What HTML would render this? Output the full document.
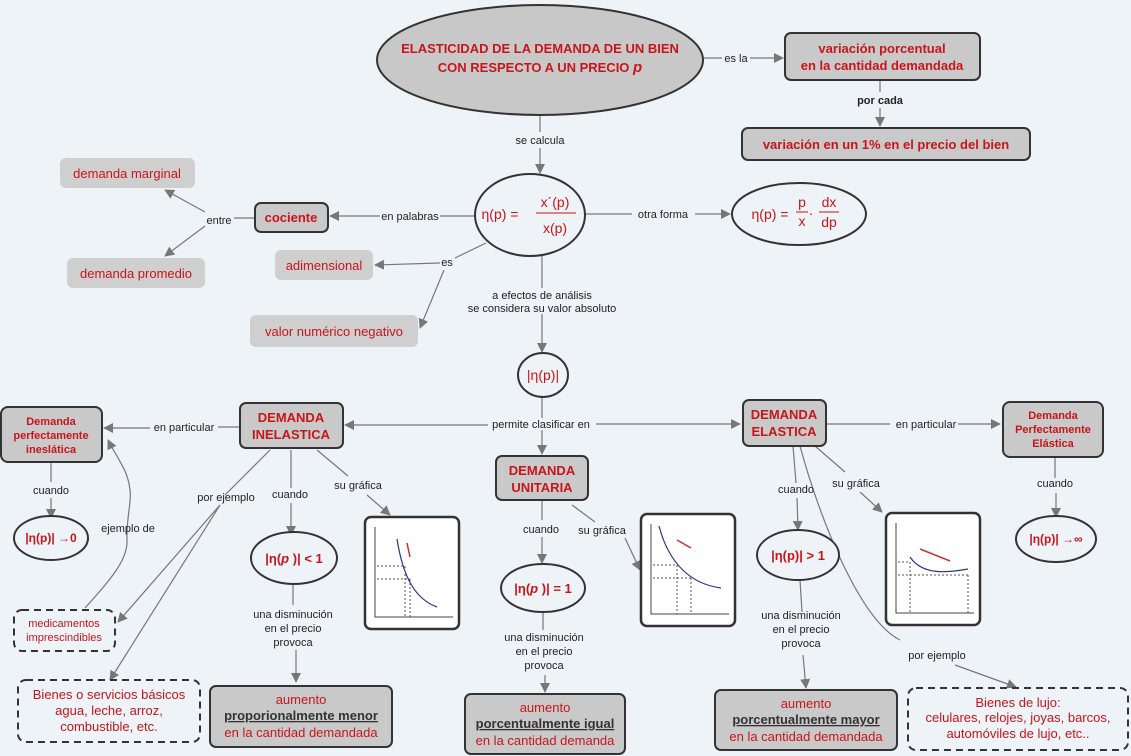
<!DOCTYPE html>
<html><head><meta charset="utf-8"><style>
html,body{margin:0;padding:0;background:#edf3f6;}
svg{display:block;font-family:"Liberation Sans",sans-serif;}
.l{font-size:11px;fill:#222;text-anchor:middle}
.r{fill:#c8151b;text-anchor:middle}
.b{font-weight:bold}
.ln{stroke:#777;stroke-width:1.2;fill:none}
.n{fill:#c9c9c9;stroke:#333;stroke-width:2}
.s{fill:#cfcfcf;stroke:none}
.e{fill:#edf3f6;stroke:#333;stroke-width:2}
.d{fill:#edf3f6;stroke:#333;stroke-width:2;stroke-dasharray:7,5}
</style></head><body>
<svg width="1131" height="756" viewBox="0 0 1131 756">
<defs><marker id="a" markerWidth="10" markerHeight="10" refX="9" refY="5" orient="auto" markerUnits="userSpaceOnUse"><path d="M0,0 L10,5 L0,10z" fill="#777"/></marker>
<g id="gr"><rect x="0" y="0" width="94" height="112" rx="6" fill="#fff" stroke="#333" stroke-width="2.5"/><path d="M10,10 V100 H88" stroke="#444" fill="none"/></g></defs>

<!-- connectors -->
<g class="ln">
<path d="M703,58 H722 M750,58 H783" marker-end="url(#a)"/>
<path d="M880,80 V92 M880,108 V126" marker-end="url(#a)"/>
<path d="M540,115 V132 M540,148 V173" marker-end="url(#a)"/>
<path d="M585,214 H632 M695,214 H730" marker-end="url(#a)"/>
<path d="M475,216 H440 M380,216 H330" marker-end="url(#a)"/>
<path d="M255,218 H234 M205,212 L165,190" marker-end="url(#a)"/>
<path d="M205,226 L165,256" marker-end="url(#a)"/>
<path d="M486,243 L455,258 M440,263 L375,265" marker-end="url(#a)"/>
<path d="M444,270 L420,328" marker-end="url(#a)"/>
<path d="M542,256 V288 M542,314 V352" marker-end="url(#a)"/>
<path d="M542,397 V418"/>
<path d="M488,425 H345" marker-end="url(#a)"/>
<path d="M596,424 H740" marker-end="url(#a)"/>
<path d="M542,430 V454" marker-end="url(#a)"/>
<path d="M240,427 H218 M150,428 H104" marker-end="url(#a)"/>
<path d="M51,462 V482 M51,498 V518" marker-end="url(#a)"/>
<path d="M85,608 C110,580 128,560 127,540 C126,520 132,500 130,490 C128,470 118,460 108,440" marker-end="url(#a)"/>
<path d="M270,450 L225,495 M220,505 L118,622" marker-end="url(#a)"/>
<path d="M220,505 L110,680" marker-end="url(#a)"/>
<path d="M291,450 V488 M291,503 V535" marker-end="url(#a)"/>
<path d="M317,450 L348,476 M367,495 L390,515" marker-end="url(#a)"/>
<path d="M293,585 V605 M296,650 V682" marker-end="url(#a)"/>
<path d="M542,500 V520 M542,537 V563" marker-end="url(#a)"/>
<path d="M572,505 L595,522 M625,538 L640,570" marker-end="url(#a)"/>
<path d="M543,610 V630 M545,675 V692" marker-end="url(#a)"/>
<path d="M826,424 H890 M958,424 H1000" marker-end="url(#a)"/>
<path d="M793,446 L796,483 M797,498 L798,530" marker-end="url(#a)"/>
<path d="M815,446 L845,472 M860,492 L882,512" marker-end="url(#a)"/>
<path d="M800,580 L802,612 M803,655 L806,688" marker-end="url(#a)"/>
<path d="M800,446 C820,520 860,620 900,640 M955,665 L1016,687" marker-end="url(#a)"/>
<path d="M1055,458 V478 M1056,493 V517" marker-end="url(#a)"/>
</g>

<!-- top -->
<ellipse cx="540" cy="60" rx="163" ry="55" fill="#c8c8c8" stroke="#333" stroke-width="2"/>
<text class="r b" font-size="13"><tspan x="540" y="53">ELASTICIDAD DE LA DEMANDA DE UN BIEN</tspan><tspan x="540" y="72">CON RESPECTO A UN PRECIO <tspan font-style="italic" font-size="15">p</tspan></tspan></text>
<text class="l" x="736" y="62">es la</text>
<rect class="n" x="785" y="33" width="195" height="47" rx="6"/>
<text class="r b" font-size="13"><tspan x="882" y="53">variación porcentual</tspan><tspan x="882" y="70">en la cantidad demandada</tspan></text>
<text class="l b" x="880" y="104">por cada</text>
<rect class="n" x="742" y="128" width="288" height="32" rx="6"/>
<text class="r b" font-size="13" x="886" y="149">variación en un 1% en el precio del bien</text>
<text class="l" x="540" y="144">se calcula</text>

<ellipse class="e" cx="530" cy="215" rx="55" ry="41"/>
<text class="r" font-size="14" x="500" y="219">η(p) =</text>
<text class="r" font-size="14" x="555" y="207">x´(p)</text>
<line x1="536" y1="213" x2="576" y2="213" stroke="#c8151b"/>
<text class="r" font-size="14" x="555" y="233">x(p)</text>
<text class="l" x="663" y="218">otra forma</text>
<ellipse class="e" cx="799" cy="214" rx="67" ry="31"/>
<text class="r" font-size="14" x="770" y="219">η(p) =</text>
<text class="r" font-size="14" x="802" y="207">p</text><line x1="796" y1="212" x2="808" y2="212" stroke="#c8151b"/><text class="r" font-size="14" x="802" y="226">x</text>
<text class="r" font-size="14" x="811" y="218">·</text>
<text class="r" font-size="14" x="829" y="207">dx</text><line x1="819" y1="212" x2="839" y2="212" stroke="#c8151b"/><text class="r" font-size="14" x="829" y="227">dp</text>

<text class="l" x="410" y="220">en palabras</text>
<rect class="n" x="255" y="203" width="73" height="29" rx="6"/>
<text class="r b" font-size="13" x="291" y="222">cociente</text>
<text class="l" x="219" y="224">entre</text>
<rect class="s" x="60" y="158" width="135" height="30" rx="6"/>
<text class="r" font-size="13" x="127" y="178">demanda marginal</text>
<rect class="s" x="67" y="258" width="138" height="30" rx="6"/>
<text class="r" font-size="13" x="136" y="278">demanda promedio</text>
<text class="l" x="447" y="266">es</text>
<rect class="s" x="275" y="250" width="98" height="30" rx="6"/>
<text class="r" font-size="13" x="324" y="270">adimensional</text>
<rect class="s" x="250" y="315" width="168" height="32" rx="6"/>
<text class="r" font-size="13" x="334" y="336">valor numérico negativo</text>
<text class="l"><tspan x="542" y="299">a efectos de análisis</tspan><tspan x="542" y="312">se considera su valor absoluto</tspan></text>
<ellipse class="e" cx="543" cy="375" rx="25" ry="22"/>
<text class="r" font-size="14" x="543" y="380">|η(p)|</text>
<text class="l" x="541" y="428">permite clasificar en</text>

<!-- inelastica -->
<rect class="n" x="240" y="403" width="103" height="45" rx="6"/>
<text class="r b" font-size="13"><tspan x="291" y="422">DEMANDA</tspan><tspan x="291" y="439">INELASTICA</tspan></text>
<text class="l" x="184" y="431">en particular</text>
<rect class="n" x="1" y="407" width="101" height="55" rx="7"/>
<text class="r b" font-size="11"><tspan x="51" y="425">Demanda</tspan><tspan x="51" y="439">perfectamente</tspan><tspan x="51" y="453">ineslática</tspan></text>
<text class="l" x="51" y="494">cuando</text>
<ellipse class="e" cx="51" cy="538" rx="37" ry="22"/>
<text class="r b" font-size="12" x="51" y="542">|η(p)| →0</text>
<text class="l" x="128" y="532">ejemplo de</text>
<text class="l" x="226" y="501">por ejemplo</text>
<text class="l" x="290" y="498">cuando</text>
<text class="l" x="358" y="489">su gráfica</text>
<rect class="d" x="14" y="610" width="101" height="41" rx="8"/>
<text class="r" font-size="11"><tspan x="64" y="627">medicamentos</tspan><tspan x="64" y="641">imprescindibles</tspan></text>
<rect class="d" x="18" y="680" width="182" height="62" rx="8"/>
<text class="r" font-size="13"><tspan x="109" y="699">Bienes o servicios básicos</tspan><tspan x="109" y="715">agua, leche, arroz,</tspan><tspan x="109" y="731">combustible, etc.</tspan></text>
<ellipse class="e" cx="294" cy="558" rx="43" ry="26"/>
<text class="r b" font-size="13" x="294" y="563">|η(<tspan font-style="italic">p</tspan> )| &lt; 1</text>
<text class="l"><tspan x="293" y="618">una disminución</tspan><tspan x="293" y="632">en el precio</tspan><tspan x="293" y="646">provoca</tspan></text>
<rect class="n" x="210" y="686" width="182" height="61" rx="6"/>
<text class="r" font-size="13"><tspan x="301" y="704">aumento</tspan><tspan x="301" y="720" fill="#333" font-weight="bold" text-decoration="underline">proporionalmente menor</tspan><tspan x="301" y="737">en la cantidad demandada</tspan></text>
<g transform="translate(365,517)"><use href="#gr"/><path d="M32,22 C38,60 50,82 72,90" stroke="#33338a" fill="none" stroke-width="1.2"/><path d="M42,26 L45,40" stroke="#c33" stroke-width="1.5"/><path d="M12,49 H40 M12,62 H45 M40,49 V100 M45,62 V100" stroke="#555" stroke-dasharray="2,2" fill="none"/></g>

<!-- unitaria -->
<rect class="n" x="496" y="456" width="92" height="44" rx="6"/>
<text class="r b" font-size="13"><tspan x="542" y="475">DEMANDA</tspan><tspan x="542" y="492">UNITARIA</tspan></text>
<text class="l" x="541" y="533">cuando</text>
<text class="l" x="602" y="534">su gráfica</text>
<ellipse class="e" cx="543" cy="588" rx="42" ry="24"/>
<text class="r b" font-size="13" x="543" y="593">|η(<tspan font-style="italic">p</tspan> )| = 1</text>
<text class="l"><tspan x="544" y="641">una disminución</tspan><tspan x="544" y="655">en el precio</tspan><tspan x="544" y="669">provoca</tspan></text>
<rect class="n" x="465" y="694" width="160" height="60" rx="6"/>
<text class="r" font-size="13"><tspan x="545" y="712">aumento</tspan><tspan x="545" y="728" fill="#333" font-weight="bold" text-decoration="underline">porcentualmente igual</tspan><tspan x="545" y="745">en la cantidad demanda</tspan></text>
<g transform="translate(641,514)"><use href="#gr"/><path d="M18,12 C28,50 50,70 80,74" stroke="#33338a" fill="none" stroke-width="1.2"/><path d="M36,26 L50,34" stroke="#c33" stroke-width="1.5"/><path d="M12,51 H36 M12,64 H50 M36,51 V100 M50,64 V100" stroke="#555" stroke-dasharray="2,2" fill="none"/></g>

<!-- elastica -->
<rect class="n" x="743" y="400" width="83" height="46" rx="6"/>
<text class="r b" font-size="13"><tspan x="784" y="419">DEMANDA</tspan><tspan x="784" y="436">ELASTICA</tspan></text>
<text class="l" x="926" y="428">en particular</text>
<rect class="n" x="1003" y="402" width="100" height="55" rx="7"/>
<text class="r b" font-size="11"><tspan x="1053" y="419">Demanda</tspan><tspan x="1053" y="433">Perfectamente</tspan><tspan x="1053" y="447">Elástica</tspan></text>
<text class="l" x="1055" y="487">cuando</text>
<ellipse class="e" cx="1056" cy="539" rx="40" ry="23"/>
<text class="r b" font-size="12" x="1056" y="543">|η(p)| →∞</text>
<text class="l" x="796" y="493">cuando</text>
<text class="l" x="856" y="487">su gráfica</text>
<ellipse class="e" cx="798" cy="555" rx="41" ry="25"/>
<text class="r b" font-size="13" x="798" y="560">|η(p)| &gt; 1</text>
<text class="l"><tspan x="801" y="619">una disminución</tspan><tspan x="801" y="633">en el precio</tspan><tspan x="801" y="647">provoca</tspan></text>
<text class="l" x="937" y="659">por ejemplo</text>
<rect class="n" x="715" y="690" width="182" height="60" rx="6"/>
<text class="r" font-size="13"><tspan x="806" y="708">aumento</tspan><tspan x="806" y="724" fill="#333" font-weight="bold" text-decoration="underline">porcentualmente mayor</tspan><tspan x="806" y="741">en la cantidad demandada</tspan></text>
<rect class="d" x="908" y="688" width="220" height="62" rx="8"/>
<text class="r" font-size="13"><tspan x="1018" y="707">Bienes de lujo:</tspan><tspan x="1018" y="722">celulares, relojes, joyas, barcos,</tspan><tspan x="1018" y="738">automóviles de lujo, etc..</tspan></text>
<g transform="translate(886,513)"><use href="#gr"/><path d="M24,44 C36,62 60,60 82,56" stroke="#33338a" fill="none" stroke-width="1.2"/><path d="M34,36 L64,48" stroke="#c33" stroke-width="1.5"/><path d="M12,49 H24 M12,62 H82 M24,49 V100 M82,62 V100" stroke="#555" stroke-dasharray="2,2" fill="none"/></g>
</svg>
</body></html>
